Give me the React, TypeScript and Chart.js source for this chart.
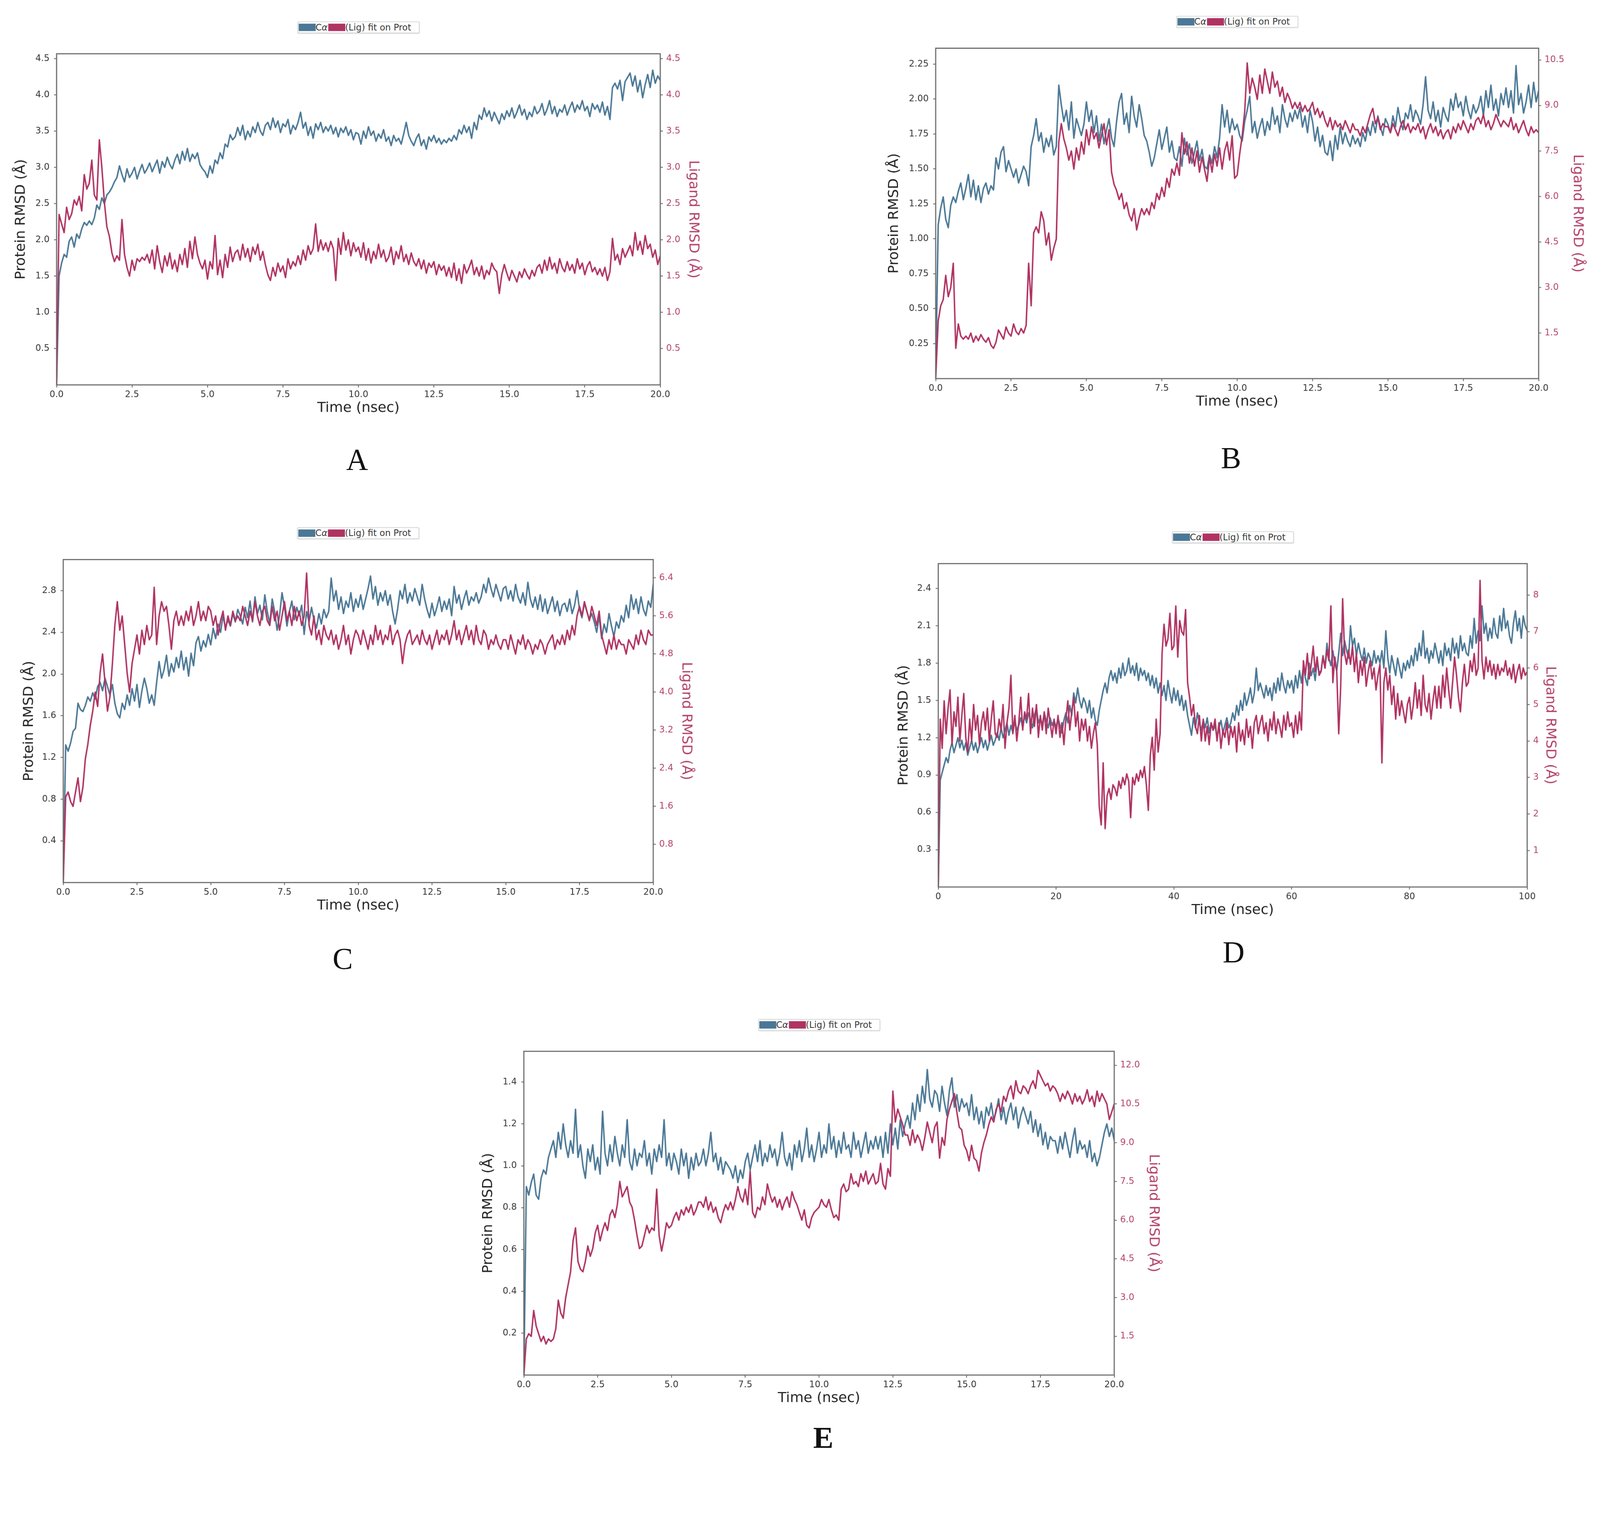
import React, { useEffect, useRef, useState } from "react";
import { Chart, registerables } from "chart.js";

Chart.register(...registerables);

const BLUE = "#4b7896";
const RED = "#b03362";
const RED_TEXT = "#b3416a";
const FONT = "DejaVu Sans";
const PAGE_W = 4328;
const PAGE_H = 3924;

const TIME20_TICKS = [0, 2.5, 5, 7.5, 10, 12.5, 15, 17.5, 20];
const TIME100_TICKS = [0, 20, 40, 60, 80, 100];

// ---------- Panel A (12 frames per ns) ----------
const A_PROTEIN = [
  0.00, 1.50, 1.68, 1.80, 1.76, 1.98, 2.04, 1.90, 2.08, 2.02, 2.15, 2.24,
  2.20, 2.26, 2.21, 2.30, 2.48, 2.42, 2.58, 2.50, 2.62, 2.66, 2.72, 2.80,
  2.86, 3.02, 2.90, 2.80, 2.98, 2.86, 2.92, 3.00, 2.84, 2.95, 3.04, 2.92,
  2.98, 3.06, 2.94, 3.02, 3.10, 2.92, 3.08, 3.00, 3.14, 3.04, 2.98, 3.10,
  3.18, 3.05, 3.22, 3.10, 3.26, 3.08, 3.18, 3.12, 3.20, 3.04, 2.98, 2.94,
  2.86, 3.02, 2.92, 3.10, 3.05, 3.20, 3.12, 3.32, 3.28, 3.45, 3.38, 3.42,
  3.55, 3.44, 3.58, 3.38, 3.50, 3.42, 3.56, 3.48, 3.62, 3.50, 3.44, 3.58,
  3.62, 3.52, 3.68, 3.55, 3.64, 3.48, 3.60, 3.56, 3.66, 3.46, 3.58, 3.52,
  3.62, 3.76, 3.54, 3.62, 3.44, 3.56, 3.40, 3.60, 3.52, 3.62, 3.48, 3.56,
  3.50, 3.58, 3.46, 3.55, 3.42, 3.54, 3.48, 3.56, 3.44, 3.52, 3.38, 3.48,
  3.46, 3.32, 3.50, 3.40, 3.56, 3.44, 3.50, 3.36, 3.46, 3.40, 3.52, 3.36,
  3.42, 3.30, 3.44, 3.36, 3.40, 3.32, 3.46, 3.62, 3.44, 3.36, 3.30, 3.40,
  3.46, 3.30, 3.38, 3.25, 3.42, 3.36, 3.44, 3.34, 3.40, 3.32, 3.38, 3.34,
  3.40, 3.36, 3.44, 3.38, 3.52, 3.46, 3.58, 3.48, 3.56, 3.40, 3.62, 3.52,
  3.72, 3.66, 3.82, 3.70, 3.78, 3.64, 3.76, 3.68, 3.60, 3.74, 3.66, 3.78,
  3.70, 3.82, 3.68, 3.76, 3.86, 3.72, 3.80, 3.66, 3.76, 3.70, 3.84, 3.74,
  3.78, 3.88, 3.72, 3.80, 3.92, 3.74, 3.84, 3.70, 3.80, 3.76, 3.86, 3.72,
  3.82, 3.90, 3.76, 3.86, 3.80, 3.92, 3.78, 3.84, 3.70, 3.88, 3.80, 3.86,
  3.76, 3.90, 3.72, 3.84, 3.66, 4.10, 4.16, 4.08, 4.20, 3.92, 4.18, 4.24,
  4.30, 4.12, 4.26, 4.04, 4.20, 3.96, 4.14, 4.28, 4.10, 4.34, 4.16, 4.26,
  4.20,
];
const A_LIGAND = [
  0.00, 2.35, 2.22, 2.10, 2.45, 2.28, 2.36, 2.55, 2.48, 2.60, 2.40, 2.90,
  2.70, 2.78, 3.10, 2.62, 2.55, 3.38, 3.00, 2.52, 2.18, 2.05, 1.82, 1.70,
  1.78, 1.72, 2.28, 1.80, 1.62, 1.50, 1.72, 1.58, 1.74, 1.70, 1.76, 1.72,
  1.80, 1.68, 1.86, 1.60, 1.92, 1.70, 1.55, 1.78, 1.64, 1.82, 1.60, 1.72,
  1.56, 1.80, 1.66, 1.88, 1.62, 1.98, 1.74, 2.04, 1.80, 1.68, 1.60, 1.72,
  1.46, 1.70, 1.60, 2.06, 1.52, 1.72, 1.48, 1.80, 1.62, 1.90, 1.70, 1.82,
  1.86, 1.72, 1.94, 1.76, 1.88, 1.70, 1.90, 1.80, 1.94, 1.72, 1.84, 1.66,
  1.52, 1.44, 1.62, 1.50, 1.68, 1.56, 1.64, 1.48, 1.74, 1.60, 1.70, 1.64,
  1.78, 1.66, 1.86, 1.72, 1.92, 1.80, 1.88, 2.22, 1.84, 2.00, 1.86, 1.96,
  1.84, 1.98, 1.88, 1.44, 2.02, 1.80, 2.10, 1.86, 2.00, 1.78, 1.96, 1.84,
  1.90, 1.76, 1.96, 1.72, 1.88, 1.68, 1.84, 1.74, 1.94, 1.76, 1.86, 1.70,
  1.76, 1.90, 1.66, 1.84, 1.74, 1.92, 1.70, 1.80, 1.66, 1.82, 1.70, 1.64,
  1.74, 1.60, 1.72, 1.54, 1.68, 1.62, 1.70, 1.52, 1.66, 1.58, 1.64, 1.50,
  1.62, 1.48, 1.68, 1.44, 1.60, 1.40, 1.66, 1.54, 1.62, 1.72, 1.52, 1.62,
  1.50, 1.64, 1.46, 1.58, 1.52, 1.68, 1.60, 1.56, 1.26, 1.52, 1.66, 1.54,
  1.44, 1.58, 1.50, 1.42, 1.56, 1.48, 1.60, 1.52, 1.46, 1.58, 1.50, 1.62,
  1.66, 1.54, 1.72, 1.58, 1.76, 1.60, 1.68, 1.54, 1.74, 1.62, 1.56, 1.70,
  1.58, 1.66, 1.54, 1.74, 1.60, 1.68, 1.52, 1.64, 1.70, 1.56, 1.62, 1.52,
  1.60, 1.50, 1.62, 1.44, 1.56, 2.02, 1.72, 1.80, 1.66, 1.88, 1.76, 1.84,
  1.92, 1.78, 2.10, 1.86, 1.98, 1.80, 2.06, 1.88, 1.94, 1.76, 1.86, 1.66,
  1.78,
];
const A_LEFT_TICKS = [0.5, 1.0, 1.5, 2.0, 2.5, 3.0, 3.5, 4.0, 4.5];
const A_RIGHT_TICKS = [0.5, 1.0, 1.5, 2.0, 2.5, 3.0, 3.5, 4.0, 4.5];

// ---------- Panel B ----------
const B_PROTEIN = [
  0.00, 1.10, 1.22, 1.30, 1.14, 1.08, 1.24, 1.30, 1.26, 1.34, 1.40, 1.28,
  1.36, 1.46, 1.30, 1.42, 1.28, 1.38, 1.26, 1.36, 1.40, 1.32, 1.38, 1.35,
  1.58, 1.50, 1.62, 1.66, 1.48, 1.56, 1.50, 1.44, 1.50, 1.40, 1.46, 1.52,
  1.48, 1.38, 1.66, 1.74, 1.86, 1.70, 1.76, 1.62, 1.72, 1.66, 1.74, 1.60,
  1.66, 2.10, 1.96, 1.84, 1.92, 1.78, 1.98, 1.72, 1.86, 1.80, 1.74, 1.82,
  1.98, 1.84, 1.92, 1.76, 1.88, 1.70, 1.82, 1.68, 1.78, 1.86, 1.72, 1.66,
  1.84, 1.98, 2.04, 1.82, 1.90, 1.76, 2.02, 1.88, 1.80, 1.96, 1.86, 1.74,
  1.70, 1.62, 1.52, 1.58, 1.68, 1.78, 1.64, 1.72, 1.80, 1.62, 1.70, 1.58,
  1.56, 1.66, 1.52, 1.72, 1.60, 1.68, 1.54, 1.62, 1.70, 1.56, 1.64, 1.52,
  1.50, 1.60, 1.54, 1.66, 1.58, 1.72, 1.96, 1.80, 1.92, 1.76, 1.86, 1.78,
  1.82, 1.74, 1.70, 1.84, 1.92, 2.02, 1.76, 1.84, 1.72, 1.80, 1.86, 1.74,
  1.84, 1.78, 1.94, 1.82, 1.88, 1.76, 1.96, 1.86, 1.80, 1.90, 1.84, 1.92,
  1.86, 1.94, 1.80, 1.88, 1.76, 1.92, 1.84, 1.70, 1.80, 1.66, 1.74, 1.62,
  1.60, 1.70, 1.56, 1.74, 1.64, 1.80, 1.68, 1.76, 1.70, 1.66, 1.74, 1.68,
  1.72, 1.66, 1.76, 1.70, 1.80, 1.74, 1.84, 1.76, 1.88, 1.80, 1.74, 1.86,
  1.82, 1.76, 1.88, 1.80, 1.94, 1.84, 1.78, 1.90, 1.86, 1.96, 1.84, 1.92,
  1.88, 1.82, 1.96, 2.16, 1.92, 1.86, 1.98, 1.84, 1.92, 1.80, 1.94, 1.88,
  1.84, 2.00, 1.92, 2.04, 1.94, 1.98, 1.88, 2.02, 1.92, 1.86, 1.96, 1.90,
  1.94, 2.02, 1.88, 2.06, 1.94, 2.10, 1.92, 2.00, 1.88, 2.04, 1.96, 2.08,
  1.94, 2.06, 1.90, 2.24, 1.96, 2.04, 1.90, 1.98, 2.10, 1.94, 2.12, 1.98,
  2.06,
];
const B_LIGAND = [
  0.00, 1.90, 2.40, 2.60, 3.40, 2.70, 3.00, 3.80, 1.00, 1.80, 1.40, 1.30,
  1.40, 1.30, 1.50, 1.20, 1.40, 1.25, 1.45, 1.30, 1.20, 1.35, 1.10, 1.00,
  1.20, 1.60, 1.45, 1.30, 1.70, 1.50, 1.40, 1.80, 1.55, 1.45, 1.65, 1.50,
  1.75, 3.80, 2.40, 4.80, 5.00, 4.80, 5.50, 5.20, 4.40, 4.80, 3.90, 4.30,
  4.60, 7.80, 8.40, 7.90, 7.60, 7.20, 7.50, 6.90, 7.60, 7.20, 7.80, 7.40,
  8.20, 7.70, 8.30, 7.90, 8.10, 7.60, 8.00, 8.40, 7.70, 8.20, 6.80, 6.40,
  6.20, 5.90, 6.10, 5.60, 5.80, 5.40, 5.20, 5.60, 4.90, 5.30, 5.60, 5.40,
  5.60, 5.40, 5.80, 5.60, 6.10, 5.90, 6.30, 6.00, 6.60, 6.30, 6.90, 6.70,
  7.10, 6.70, 8.10, 7.40, 7.80, 7.10, 7.60, 7.00, 7.50, 6.80, 7.30, 6.90,
  6.50, 7.30, 6.80, 7.40, 7.00, 7.60, 6.90, 7.50, 7.80, 7.20, 8.00, 6.60,
  6.70, 7.40, 8.00, 8.80, 10.40, 9.40, 9.90, 9.60, 9.20, 10.00, 9.40, 10.20,
  9.80, 9.40, 10.10, 9.60, 9.80, 9.30, 9.60, 9.10, 9.40, 9.20, 8.90, 9.10,
  8.90, 9.10, 8.80, 9.00, 8.80, 8.90, 9.10, 8.70, 8.90, 8.60, 8.80, 8.50,
  8.30, 8.60, 8.20, 8.50, 8.30, 8.40, 8.20, 8.50, 8.30, 8.10, 8.40, 8.20,
  8.20, 8.00, 8.30, 8.10, 8.40, 8.70, 8.90, 8.40, 8.60, 8.20, 8.40, 8.30,
  8.30, 8.10, 8.40, 8.20, 8.00, 8.30, 8.50, 8.20, 8.40, 8.10, 8.30, 8.20,
  8.40, 8.10, 8.30, 7.90, 8.20, 8.40, 8.10, 8.30, 8.00, 8.20, 7.90, 8.10,
  8.20, 7.90, 8.30, 8.10, 8.40, 8.20, 8.50, 8.30, 8.10, 8.40, 8.20, 8.50,
  8.60, 8.40, 8.70, 8.30, 8.50, 8.20, 8.40, 8.70, 8.50, 8.30, 8.50, 8.40,
  8.30, 8.60, 8.20, 8.40, 8.10, 8.30, 8.50, 8.20, 8.00, 8.30, 8.10, 8.20,
  8.10,
];
const B_LEFT_TICKS = [0.25, 0.5, 0.75, 1.0, 1.25, 1.5, 1.75, 2.0, 2.25];
const B_RIGHT_TICKS = [1.5, 3.0, 4.5, 6.0, 7.5, 9.0, 10.5];

// ---------- Panel C ----------
const C_PROTEIN = [
  0.00, 1.32, 1.26, 1.34, 1.45, 1.48, 1.72, 1.66, 1.64, 1.70, 1.78, 1.74,
  1.82, 1.76, 1.88, 1.92, 1.84, 1.96, 1.88, 1.80, 1.90, 1.72, 1.62, 1.58,
  1.72, 1.66, 1.80, 1.70, 1.86, 1.74, 1.90, 1.68, 1.84, 1.96, 1.86, 1.72,
  1.80, 1.70, 1.92, 2.12, 1.96, 2.04, 2.18, 1.98, 2.10, 2.02, 2.16, 2.06,
  2.22, 2.04, 2.16, 1.98, 2.20, 2.08, 2.30, 2.36, 2.22, 2.32, 2.26, 2.38,
  2.28, 2.44, 2.34, 2.48, 2.40, 2.56, 2.44, 2.52, 2.46, 2.58, 2.50, 2.62,
  2.56, 2.48, 2.64, 2.54, 2.70, 2.50, 2.74, 2.58, 2.66, 2.52, 2.76, 2.60,
  2.48, 2.72, 2.60, 2.42, 2.56, 2.78, 2.64, 2.46, 2.60, 2.70, 2.52, 2.64,
  2.56, 2.66, 2.38, 2.60, 2.50, 2.64, 2.52, 2.44, 2.58, 2.48, 2.62, 2.54,
  2.60, 2.92, 2.70, 2.80, 2.62, 2.74, 2.58, 2.70, 2.64, 2.78, 2.60, 2.72,
  2.64, 2.76, 2.62, 2.72, 2.82, 2.94, 2.72, 2.84, 2.66, 2.78, 2.70, 2.80,
  2.66, 2.76, 2.60, 2.48, 2.62, 2.80, 2.72, 2.86, 2.68, 2.78, 2.70, 2.82,
  2.74, 2.66, 2.86, 2.72, 2.62, 2.54, 2.68, 2.56, 2.64, 2.74, 2.60, 2.70,
  2.62, 2.72, 2.56, 2.84, 2.68, 2.76, 2.62, 2.72, 2.80, 2.66, 2.74, 2.70,
  2.78, 2.68, 2.74, 2.86, 2.78, 2.92, 2.82, 2.74, 2.86, 2.78, 2.70, 2.82,
  2.84, 2.72, 2.80, 2.70, 2.86, 2.74, 2.68, 2.78, 2.66, 2.88, 2.72, 2.64,
  2.74, 2.62, 2.76, 2.60, 2.72, 2.58, 2.66, 2.74, 2.60, 2.70, 2.56, 2.66,
  2.68, 2.60, 2.72, 2.58, 2.66, 2.80, 2.62, 2.54, 2.68, 2.60, 2.52, 2.58,
  2.50, 2.40, 2.56, 2.34, 2.48, 2.40, 2.58, 2.46, 2.36, 2.50, 2.44, 2.56,
  2.50, 2.66, 2.54, 2.76, 2.62, 2.72, 2.58, 2.74, 2.62, 2.56, 2.70, 2.64,
  2.86,
];
const C_LIGAND = [
  0.00, 1.80, 1.90, 1.70, 1.60, 1.90, 2.20, 1.70, 2.00, 2.60, 2.90, 3.30,
  3.60, 4.00, 3.70, 4.40, 4.80, 4.20, 3.60, 3.90, 4.60, 5.40, 5.90, 5.30,
  5.60, 5.00, 4.40, 4.00, 4.60, 4.90, 5.20, 4.80, 5.30, 5.00, 5.40, 5.10,
  5.20, 6.20, 5.00, 5.60, 5.90, 5.70, 5.80, 5.40, 4.90, 5.50, 5.70, 5.40,
  5.60, 5.40, 5.70, 5.50, 5.80, 5.40, 5.60, 5.90, 5.50, 5.70, 5.50, 5.80,
  5.70, 5.40, 5.60, 5.20, 5.50, 5.70, 5.30, 5.60, 5.40, 5.70, 5.50, 5.60,
  5.50, 5.80, 5.60, 5.40, 5.70, 5.50, 5.90, 5.60, 5.40, 5.70, 5.80, 5.50,
  5.40, 5.80, 5.50, 5.70, 5.30, 5.60, 5.90, 5.50, 5.70, 5.40, 5.80, 5.50,
  5.70, 5.40, 5.60, 6.50, 5.40, 5.20, 5.60, 5.10, 5.30, 5.00, 5.40, 5.20,
  5.10, 5.30, 5.00, 5.20, 4.90, 5.10, 5.40, 5.00, 5.20, 4.80, 5.10, 5.30,
  5.20, 5.00, 5.30, 5.10, 4.90, 5.20, 5.00, 5.40, 5.10, 5.30, 5.00, 5.20,
  5.10, 5.40, 5.00, 5.20, 5.30, 5.10, 4.60, 5.00, 5.20, 5.30, 5.00, 5.10,
  5.20, 5.00, 5.30, 5.10, 5.00, 5.20, 4.90, 5.10, 5.30, 5.00, 5.20, 5.10,
  5.30, 5.00, 5.20, 5.50, 5.10, 5.30, 5.00, 5.20, 5.40, 5.10, 5.30, 5.00,
  5.40, 5.10, 5.00, 5.30, 5.20, 4.90, 5.10, 5.00, 5.20, 5.00, 4.90, 5.10,
  5.10, 4.90, 5.20, 5.00, 4.80, 5.10, 5.00, 5.20, 4.90, 5.10, 5.00, 4.80,
  5.00, 4.90, 5.10, 5.00, 4.80, 5.00, 5.10, 5.20, 4.90, 5.10, 5.00, 5.20,
  5.00, 5.30, 5.10, 5.40, 5.20, 5.60, 5.80, 5.60, 5.90, 5.70, 5.50, 5.80,
  5.60, 5.40, 5.70, 5.20, 5.00, 4.80, 5.10, 4.90, 5.20, 4.90, 5.10, 5.00,
  5.00, 4.80, 5.10, 5.00, 4.90, 5.20, 5.00, 5.30, 5.10, 5.00, 5.30, 5.20,
  5.20,
];
const C_LEFT_TICKS = [0.4, 0.8, 1.2, 1.6, 2.0, 2.4, 2.8];
const C_RIGHT_TICKS = [0.8, 1.6, 2.4, 3.2, 4.0, 4.8, 5.6, 6.4];

// ---------- Panel D (100 ns, 3 frames per ns) ----------
const D_PROTEIN = [
  0.00, 0.86, 0.92, 0.98, 1.04, 1.00, 1.10, 1.16, 1.08, 1.14, 1.20, 1.12, 1.18, 1.10, 1.16,
  1.06, 1.12, 1.18, 1.10, 1.16, 1.08, 1.14, 1.20, 1.12, 1.18, 1.10, 1.16, 1.22, 1.14, 1.18,
  1.24, 1.18, 1.28, 1.20, 1.26, 1.32, 1.22, 1.30, 1.24, 1.34, 1.26, 1.30, 1.36, 1.28, 1.38,
  1.32, 1.40, 1.34, 1.28, 1.38, 1.44, 1.32, 1.36, 1.30, 1.40, 1.34, 1.28, 1.36, 1.30, 1.34,
  1.28, 1.36, 1.30, 1.24, 1.34, 1.40, 1.32, 1.46, 1.38, 1.56, 1.48, 1.60, 1.50, 1.44, 1.52,
  1.48, 1.40, 1.50, 1.36, 1.44, 1.34, 1.30, 1.42, 1.50, 1.58, 1.64, 1.56, 1.68, 1.74, 1.66,
  1.72, 1.64, 1.76, 1.68, 1.80, 1.70, 1.74, 1.84, 1.72, 1.78, 1.70, 1.80, 1.66, 1.76, 1.70,
  1.74, 1.66, 1.72, 1.62, 1.70, 1.60, 1.68, 1.56, 1.64, 1.54, 1.62, 1.50, 1.66, 1.56, 1.48,
  1.60, 1.50, 1.58, 1.46, 1.54, 1.42, 1.50, 1.38, 1.30, 1.22, 1.36, 1.28, 1.40, 1.32, 1.26,
  1.34, 1.28, 1.36, 1.24, 1.32, 1.26, 1.30, 1.20, 1.28, 1.34, 1.24, 1.30, 1.36, 1.28, 1.32,
  1.40, 1.34, 1.46, 1.38, 1.50, 1.42, 1.56, 1.46, 1.52, 1.60, 1.48, 1.56, 1.76, 1.58, 1.64,
  1.58, 1.52, 1.62, 1.54, 1.60, 1.50, 1.64, 1.56, 1.68, 1.58, 1.72, 1.62, 1.56, 1.66, 1.60,
  1.66, 1.56, 1.70, 1.60, 1.74, 1.64, 1.78, 1.68, 1.62, 1.80, 1.70, 1.76, 1.66, 1.82, 1.72,
  1.74, 1.86, 1.76, 1.96, 1.84, 1.78, 1.90, 1.80, 1.74, 1.88, 2.04, 1.86, 1.98, 1.90, 1.84,
  2.10, 1.94, 2.00, 1.86, 1.96, 1.88, 1.82, 1.92, 1.80, 1.88, 1.84, 1.78, 1.90, 1.80, 1.86,
  1.80, 1.90, 1.76, 2.06, 1.84, 1.72, 1.86, 1.78, 1.70, 1.84, 1.76, 1.68, 1.80, 1.74, 1.82,
  1.76, 1.86, 1.78, 1.92, 1.82, 1.96, 1.86, 2.06, 1.84, 1.92, 1.80, 1.90, 1.84, 1.96, 1.88,
  1.80, 1.90, 1.78, 1.96, 1.86, 1.92, 1.82, 2.00, 1.88, 1.96, 1.84, 2.02, 1.90, 1.96, 1.88,
  1.86, 2.02, 1.92, 2.16, 1.96, 2.06, 1.98, 2.26, 2.04, 2.12, 1.98, 2.08, 2.00, 2.16, 2.04,
  2.00, 2.18, 2.06, 2.24, 2.08, 2.14, 2.02, 1.96, 2.12, 2.22, 2.06, 2.16, 2.00, 2.18, 2.10,
  2.06,
];
const D_LIGAND = [
  0.00, 4.60, 3.80, 5.10, 4.20, 4.90, 5.40, 3.90, 4.80, 4.40, 5.20, 4.00, 4.70, 5.30, 4.10,
  3.70, 4.60, 4.00, 5.00, 4.30, 4.70, 3.90, 4.50, 4.80, 4.30, 4.90, 4.00, 4.60, 5.10, 4.20,
  4.10, 4.60, 4.30, 5.00, 3.80, 4.50, 4.90, 5.80, 4.20, 4.70, 4.00, 4.50, 5.20, 4.30, 4.80,
  4.60, 5.30, 4.20, 4.90, 4.40, 5.00, 4.10, 4.70, 4.30, 4.80, 4.20, 4.90, 4.50, 4.10, 4.60,
  4.20, 4.70, 4.10, 4.50, 3.90, 4.60, 5.10, 4.30, 4.80, 5.20, 4.40, 4.80, 4.00, 4.60, 4.30,
  4.60, 4.00, 4.40, 3.80, 4.20, 4.50, 3.90, 2.20, 1.70, 3.40, 1.60, 2.50, 2.70, 2.40, 2.80,
  2.70, 2.50, 2.90, 2.70, 3.00, 2.80, 3.10, 2.90, 1.90, 3.00, 2.80, 3.10, 2.90, 3.20, 3.00,
  3.30, 2.80, 2.10, 3.60, 4.10, 3.20, 4.60, 3.70, 4.20, 6.40, 7.20, 6.60, 6.80, 7.50, 6.50,
  6.60, 7.70, 6.30, 7.30, 7.00, 6.90, 7.60, 5.60, 5.20, 4.70, 5.00, 4.40, 4.20, 4.70, 4.00,
  4.60, 4.00, 4.40, 3.90, 4.50, 4.30, 4.60, 4.00, 4.50, 3.80, 4.30, 4.10, 4.50, 3.90, 4.40,
  4.10, 4.40, 3.70, 4.50, 4.00, 4.30, 3.90, 4.60, 4.10, 4.40, 3.80, 4.50, 4.70, 4.20, 4.50,
  4.70, 4.20, 4.50, 4.00, 4.60, 4.30, 4.80, 4.20, 4.60, 4.40, 4.10, 4.70, 4.30, 4.80, 4.40,
  4.50, 4.10, 4.70, 4.20, 4.80, 4.30, 6.20, 5.80, 6.40, 5.70, 6.10, 6.60, 5.90, 6.30, 5.80,
  5.90, 6.30, 6.00, 6.50, 6.20, 7.70, 5.60, 6.30, 5.90, 4.20, 5.50, 7.90, 6.40, 6.10, 6.50,
  6.10, 6.60, 5.90, 6.40, 5.60, 6.20, 5.80, 6.30, 5.50, 5.90, 6.20, 5.70, 6.00, 5.40, 5.80,
  6.10, 3.40, 5.60, 6.00, 5.40, 5.80, 5.00, 5.50, 4.60, 5.30, 4.70, 5.10, 4.80, 4.50, 5.00,
  5.20, 4.60, 5.00, 5.60, 4.90, 5.40, 4.70, 5.80, 5.00, 4.80, 5.30, 4.60, 5.10, 5.50, 4.90,
  5.50, 4.90, 5.80, 5.20, 6.00, 5.40, 4.90, 5.60, 6.30, 5.80, 5.20, 4.80, 5.60, 6.10, 5.50,
  5.60, 6.20, 5.90, 6.40, 5.80, 6.00, 8.40, 6.20, 5.70, 6.30, 5.90, 6.20, 5.80, 6.10, 5.70,
  6.10, 5.80, 6.00, 5.90, 6.20, 5.80, 6.00, 5.70, 6.10, 5.60, 5.90, 6.10, 5.70, 6.00, 5.80,
  5.90,
];
const D_LEFT_TICKS = [0.3, 0.6, 0.9, 1.2, 1.5, 1.8, 2.1, 2.4];
const D_RIGHT_TICKS = [1, 2, 3, 4, 5, 6, 7, 8];

// ---------- Panel E ----------
const E_PROTEIN = [
  0.00, 0.90, 0.86, 0.92, 0.96, 0.86, 0.84, 0.94, 0.98, 0.96, 1.04, 1.08,
  1.12, 1.04, 1.16, 1.08, 1.20, 1.10, 1.04, 1.12, 1.06, 1.27, 1.04, 1.10,
  1.00, 0.94, 1.08, 1.02, 1.10, 0.98, 1.04, 0.96, 1.26, 1.06, 1.00, 1.10,
  1.02, 1.14, 1.06, 1.00, 1.10, 1.04, 1.22, 1.02, 0.98, 1.08, 1.00, 1.06,
  1.04, 1.12, 1.00, 1.06, 0.96, 1.08, 1.02, 1.10, 1.04, 1.22, 1.00, 1.06,
  0.98, 1.06, 1.02, 0.96, 1.08, 1.00, 1.06, 0.94, 1.04, 0.98, 1.06, 1.00,
  1.02, 1.08, 1.00, 1.06, 1.16, 1.02, 1.06, 0.98, 1.04, 0.96, 1.02, 1.00,
  0.98, 0.94, 1.00, 0.92, 0.98, 0.94, 1.02, 1.06, 0.98, 1.04, 1.10, 1.02,
  1.12, 1.00, 1.06, 1.02, 1.10, 1.04, 1.08, 1.00, 1.06, 1.16, 1.04, 1.00,
  1.06, 0.98, 1.10, 1.04, 1.12, 1.02, 1.08, 1.18, 1.04, 1.10, 1.02, 1.08,
  1.16, 1.04, 1.10, 1.06, 1.20, 1.08, 1.14, 1.04, 1.12, 1.06, 1.16, 1.08,
  1.10, 1.04, 1.16, 1.08, 1.12, 1.04, 1.10, 1.16, 1.06, 1.12, 1.08, 1.14,
  1.08, 1.14, 1.04, 1.16, 1.06, 1.20, 1.10, 1.18, 1.08, 1.22, 1.14, 1.20,
  1.24, 1.18, 1.30, 1.22, 1.34, 1.26, 1.38, 1.30, 1.46, 1.32, 1.28, 1.36,
  1.34, 1.26, 1.38, 1.30, 1.24, 1.36, 1.42, 1.28, 1.34, 1.26, 1.32, 1.28,
  1.30, 1.24, 1.34, 1.22, 1.28, 1.20, 1.26, 1.18, 1.28, 1.24, 1.30, 1.22,
  1.26, 1.32, 1.22, 1.28, 1.20, 1.26, 1.30, 1.22, 1.28, 1.18, 1.24, 1.28,
  1.24, 1.20, 1.26, 1.16, 1.22, 1.14, 1.20, 1.10, 1.16, 1.08, 1.14, 1.12,
  1.12, 1.06, 1.14, 1.08, 1.16, 1.10, 1.04, 1.12, 1.18, 1.06, 1.12, 1.08,
  1.10, 1.04, 1.12, 1.02, 1.06, 1.00, 1.04, 1.10, 1.16, 1.20, 1.14, 1.18,
  1.12,
];
const E_LIGAND = [
  0.00, 1.40, 1.60, 1.50, 2.50, 1.90, 1.60, 1.30, 1.50, 1.20, 1.40, 1.30,
  1.40, 1.80, 2.90, 2.40, 2.20, 3.00, 3.50, 4.00, 5.20, 5.70, 4.40, 4.10,
  4.00, 4.40, 5.00, 4.60, 4.90, 5.50, 5.80, 5.20, 5.60, 5.90, 5.60, 6.20,
  6.40, 6.10, 6.60, 7.50, 6.90, 7.10, 7.30, 6.70, 6.50, 6.00, 5.40, 4.90,
  5.00, 5.40, 5.80, 5.50, 5.70, 5.60, 7.20, 5.40, 4.80, 5.30, 5.90, 5.70,
  5.80, 6.10, 6.30, 6.00, 6.40, 6.20, 6.50, 6.30, 6.60, 6.20, 6.40, 6.70,
  6.70, 6.50, 6.90, 6.40, 6.70, 6.30, 6.50, 6.10, 5.90, 6.30, 6.60, 6.40,
  6.70, 6.40, 6.80, 7.30, 6.90, 6.70, 7.20, 6.60, 7.90, 6.30, 6.10, 6.50,
  6.40, 6.90, 6.60, 7.40, 7.00, 6.70, 6.90, 6.50, 6.80, 6.40, 6.70, 6.90,
  6.50, 7.10, 6.80, 6.60, 6.30, 6.00, 6.40, 5.80, 5.70, 6.10, 6.30, 6.40,
  6.50, 6.80, 6.60, 6.50, 6.80, 6.40, 6.10, 6.20, 6.00, 7.20, 7.40, 7.10,
  7.20, 7.80, 7.40, 7.50, 7.30, 7.80, 7.50, 7.90, 7.40, 7.60, 7.80, 7.40,
  7.50, 8.20, 7.40, 7.20, 8.00, 7.70, 11.00, 9.80, 10.30, 10.00, 9.70, 9.30,
  9.30, 8.90, 9.50, 9.00, 9.30, 9.10, 8.70, 9.20, 9.80, 9.40, 9.00, 9.60,
  9.80, 8.40, 9.20, 8.90, 9.90, 10.30, 10.60, 10.90, 10.20, 9.60, 9.50, 8.90,
  8.70, 8.30, 8.90, 8.40, 8.30, 7.90, 8.60, 9.00, 9.30, 9.70, 10.00, 9.80,
  10.30, 10.50, 10.20, 10.80, 10.60, 11.00, 11.20, 10.70, 11.40, 11.00, 10.90, 11.20,
  11.10, 10.90, 11.20, 11.40, 11.10, 11.80, 11.60, 11.40, 11.20, 11.30, 11.00, 11.20,
  11.10, 10.90, 10.60, 10.90, 10.70, 11.00, 10.80, 10.50, 10.90, 10.60, 10.80, 10.50,
  10.70, 11.05, 10.60, 10.80, 10.40, 11.00, 10.60, 10.90, 10.70, 10.50, 9.90, 10.20,
  10.50,
];
const E_LEFT_TICKS = [0.2, 0.4, 0.6, 0.8, 1.0, 1.2, 1.4];
const E_RIGHT_TICKS = [1.5, 3.0, 4.5, 6.0, 7.5, 9.0, 10.5, 12.0];

// ---------- layout ----------
type Spec = {
  id: string;
  letter: string;
  bold?: boolean;
  L: number; R: number; T: number; B: number;
  tEnd: number;
  xTicks: number[]; xDec: number;
  protein: number[]; ligand: number[];
  leftMax: number; rightMax: number;
  leftTicks: number[]; leftDec: number;
  rightTicks: number[]; rightDec: number;
  leftOff: number; rightOff: number;
  letterX: number; letterY: number;
};

const PANELS: Spec[] = [
  { id: "A", letter: "A", L: 153, R: 1786, T: 139, B: 1041, tEnd: 20, xTicks: TIME20_TICKS, xDec: 1,
    protein: A_PROTEIN, ligand: A_LIGAND, leftMax: 4.566, rightMax: 4.566,
    leftTicks: A_LEFT_TICKS, leftDec: 1, rightTicks: A_RIGHT_TICKS, rightDec: 1,
    leftOff: 96, rightOff: 89, letterX: 966, letterY: 1244 },
  { id: "B", letter: "B", L: 2531, R: 4162, T: 124, B: 1024, tEnd: 20, xTicks: TIME20_TICKS, xDec: 1,
    protein: B_PROTEIN, ligand: B_LIGAND, leftMax: 2.364, rightMax: 10.885,
    leftTicks: B_LEFT_TICKS, leftDec: 2, rightTicks: B_RIGHT_TICKS, rightDec: 1,
    leftOff: 112, rightOff: 105, letterX: 3330, letterY: 1240 },
  { id: "C", letter: "C", L: 171, R: 1767, T: 1507, B: 2387, tEnd: 20, xTicks: TIME20_TICKS, xDec: 1,
    protein: C_PROTEIN, ligand: C_LIGAND, leftMax: 3.098, rightMax: 6.784,
    leftTicks: C_LEFT_TICKS, leftDec: 1, rightTicks: C_RIGHT_TICKS, rightDec: 1,
    leftOff: 92, rightOff: 89, letterX: 927, letterY: 2594 },
  { id: "D", letter: "D", L: 2538, R: 4131, T: 1518, B: 2399, tEnd: 100, xTicks: TIME100_TICKS, xDec: 0,
    protein: D_PROTEIN, ligand: D_LIGAND, leftMax: 2.6, rightMax: 8.86,
    leftTicks: D_LEFT_TICKS, leftDec: 1, rightTicks: D_RIGHT_TICKS, rightDec: 0,
    leftOff: 93, rightOff: 62, letterX: 3337, letterY: 2577 },
  { id: "E", letter: "E", bold: true, L: 1417, R: 3014, T: 2837, B: 3719, tEnd: 20, xTicks: TIME20_TICKS, xDec: 1,
    protein: E_PROTEIN, ligand: E_LIGAND, leftMax: 1.547, rightMax: 12.54,
    leftTicks: E_LEFT_TICKS, leftDec: 1, rightTicks: E_RIGHT_TICKS, rightDec: 1,
    leftOff: 96, rightOff: 106, letterX: 2227, letterY: 3890 },
];

const AXW = 150;
const XAXH = 110;
const PADT = 20;
const TITLE_SIZE = 38;
const TICK_SIZE = 24;
const TITLE_LH = TITLE_SIZE * 1.2;
const LINE_W = 4;

const framePlugin = {
  id: "frame",
  afterDatasetsDraw(chart: any) {
    const { ctx, chartArea: a } = chart;
    ctx.save();
    ctx.strokeStyle = "#6a6a6a";
    ctx.lineWidth = 3;
    ctx.strokeRect(a.left, a.top, a.right - a.left, a.bottom - a.top);
    ctx.restore();
  },
};

function toXY(arr: number[], tEnd: number) {
  return arr.map((y, i) => ({ x: (i * tEnd) / (arr.length - 1), y }));
}

function Panel({ s }: { s: Spec }) {
  const ref = useRef<HTMLCanvasElement>(null);
  const width = s.R - s.L + 2 * AXW;
  const height = s.B - s.T + PADT + XAXH;

  useEffect(() => {
    const c = ref.current;
    if (!c) return;
    const gridCfg = {
      display: true,
      drawOnChartArea: false,
      drawTicks: true,
      tickLength: 7,
      tickWidth: 2,
      tickColor: "#555",
    };
    const chart = new Chart(c, {
      type: "line",
      data: {
        datasets: [
          {
            label: "(Lig) fit on Prot",
            data: toXY(s.ligand, s.tEnd),
            yAxisID: "y1",
            borderColor: RED,
            backgroundColor: RED,
            borderWidth: LINE_W,
            pointRadius: 0,
            tension: 0,
            borderJoinStyle: "round",
            order: 0,
          },
          {
            label: "Cα",
            data: toXY(s.protein, s.tEnd),
            yAxisID: "y",
            borderColor: BLUE,
            backgroundColor: BLUE,
            borderWidth: LINE_W,
            pointRadius: 0,
            tension: 0,
            borderJoinStyle: "round",
            order: 1,
          },
        ],
      } as any,
      options: {
        responsive: false,
        animation: false,
        devicePixelRatio: 1,
        events: [],
        layout: { autoPadding: false, padding: { top: PADT, left: 0, right: 0, bottom: 0 } },
        plugins: { legend: { display: false }, tooltip: { enabled: false } },
        scales: {
          x: {
            type: "linear",
            min: 0,
            max: s.tEnd,
            afterBuildTicks: (sc: any) => {
              sc.ticks = s.xTicks.map((v) => ({ value: v }));
            },
            afterFit: (sc: any) => {
              sc.height = XAXH;
            },
            ticks: {
              autoSkip: false,
              maxRotation: 0,
              padding: 5,
              color: "#333",
              font: { family: FONT, size: TICK_SIZE },
              callback: (v: any) => Number(v).toFixed(s.xDec),
            },
            grid: gridCfg,
            border: { display: false },
            title: {
              display: true,
              text: "Time (nsec)",
              color: "#222",
              font: { family: FONT, size: TITLE_SIZE },
              padding: { top: 0, bottom: XAXH - 63 - TITLE_LH / 2 },
            },
          },
          y: {
            type: "linear",
            position: "left",
            min: 0,
            max: s.leftMax,
            afterBuildTicks: (sc: any) => {
              sc.ticks = s.leftTicks.map((v) => ({ value: v }));
            },
            afterFit: (sc: any) => {
              sc.width = AXW;
            },
            ticks: {
              autoSkip: false,
              padding: 12,
              color: "#333",
              font: { family: FONT, size: TICK_SIZE },
              callback: (v: any) => Number(v).toFixed(s.leftDec),
            },
            grid: gridCfg,
            border: { display: false },
            title: {
              display: true,
              text: "Protein RMSD (Å)",
              color: "#222",
              font: { family: FONT, size: TITLE_SIZE },
              padding: { top: AXW - s.leftOff - TITLE_LH / 2, bottom: 0 },
            },
          },
          y1: {
            type: "linear",
            position: "right",
            min: 0,
            max: s.rightMax,
            afterBuildTicks: (sc: any) => {
              sc.ticks = s.rightTicks.map((v) => ({ value: v }));
            },
            afterFit: (sc: any) => {
              sc.width = AXW;
            },
            ticks: {
              autoSkip: false,
              padding: 9,
              color: RED_TEXT,
              font: { family: FONT, size: TICK_SIZE },
              callback: (v: any) => Number(v).toFixed(s.rightDec),
            },
            grid: gridCfg,
            border: { display: false },
            title: {
              display: true,
              text: "Ligand RMSD (Å)",
              color: RED_TEXT,
              font: { family: FONT, size: TITLE_SIZE },
              padding: { top: AXW - s.rightOff - TITLE_LH / 2, bottom: 0 },
            },
          },
        },
      } as any,
      plugins: [framePlugin],
    });
    return () => chart.destroy();
  }, [s]);

  const cx = (s.L + s.R) / 2;
  return (
    <>
      <canvas
        ref={ref}
        width={width}
        height={height}
        style={{ position: "absolute", left: s.L - AXW, top: s.T - PADT, width, height }}
      />
      <div
        style={{
          position: "absolute",
          left: cx - 165,
          top: s.T - 81,
          width: 330,
          height: 32,
          boxSizing: "border-box",
          border: "2px solid #d8d8d8",
          borderRadius: 4,
          background: "#fff",
          boxShadow: "0 1px 2px rgba(0,0,0,0.12)",
          display: "flex",
          alignItems: "center",
          fontFamily: FONT,
          fontSize: 24,
          color: "#3a3a3a",
          whiteSpace: "nowrap",
          overflow: "hidden",
        }}
      >
        <span style={{ display: "inline-block", flex: "0 0 46px", height: 20, background: BLUE, marginLeft: 1 }} />
        <span style={{ flex: "0 0 34px" }}>
          C<i>α</i>
        </span>
        <span style={{ display: "inline-block", flex: "0 0 46px", height: 20, background: RED }} />
        <span>(Lig) fit on Prot</span>
      </div>
      <div
        style={{
          position: "absolute",
          left: s.letterX - 100,
          top: s.letterY - 51,
          width: 200,
          height: 100,
          lineHeight: "100px",
          textAlign: "center",
          fontFamily: "Liberation Serif, serif",
          fontSize: 82,
          fontWeight: s.bold ? 700 : 400,
          color: "#111",
        }}
      >
        {s.letter}
      </div>
    </>
  );
}

export default function App() {
  // The browser viewport may be narrower than the requested page; scale the
  // whole figure uniformly so it fits the available width.
  const [sc] = useState(() => {
    const w = window.innerWidth || PAGE_W;
    return Math.min(1, w / PAGE_W);
  });

  useEffect(() => {
    document.documentElement.style.overflow = "hidden";
    document.body.style.overflow = "hidden";
  }, []);

  return (
    <div
      style={{
        position: "fixed",
        left: 0,
        top: 0,
        width: PAGE_W,
        height: PAGE_H,
        background: "#fff",
        overflow: "hidden",
        transformOrigin: "0 0",
        transform: `scale(${sc})`,
      }}
    >
      {PANELS.map((p) => (
        <Panel key={p.id} s={p} />
      ))}
    </div>
  );
}
